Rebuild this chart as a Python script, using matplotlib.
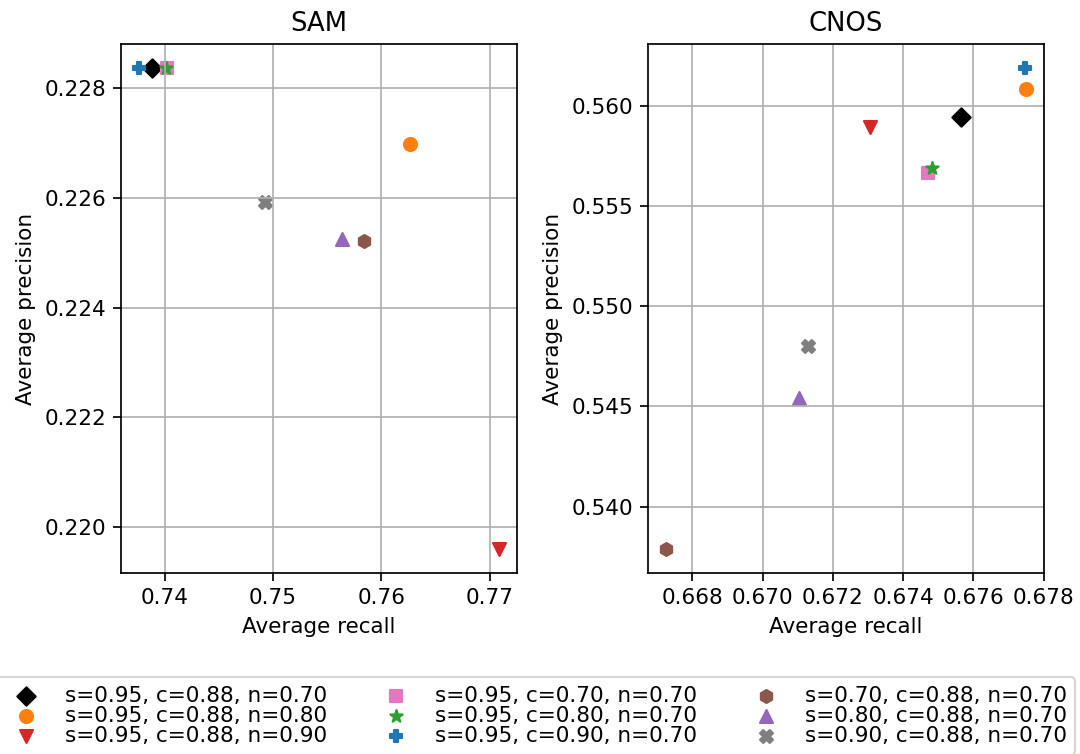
import numpy as np
import matplotlib
matplotlib.use('Agg')
import matplotlib.pyplot as plt

labels = [
    's=0.95, c=0.88, n=0.70',
    's=0.95, c=0.88, n=0.80',
    's=0.95, c=0.88, n=0.90',
    's=0.95, c=0.70, n=0.70',
    's=0.95, c=0.80, n=0.70',
    's=0.95, c=0.90, n=0.70',
    's=0.70, c=0.88, n=0.70',
    's=0.80, c=0.88, n=0.70',
    's=0.90, c=0.88, n=0.70',
]
markers = ['D', 'o', 'v', 's', '*', 'P', 'h', '^', 'X']
colors = ['black', 'C1', 'C3', 'C6', 'C2', 'C0', 'C5', 'C4', 'C7']

sam_recall = [0.73882, 0.76261, 0.77090, 0.74016, 0.74007, 0.73761, 0.75843, 0.75638, 0.74927]
sam_precision = [0.22837, 0.22699, 0.21959, 0.22837, 0.22837, 0.22837, 0.22522, 0.22525, 0.22593]

cnos_recall = [0.67564, 0.67750, 0.67306, 0.67471, 0.67481, 0.67747, 0.66725, 0.67103, 0.67130]
cnos_precision = [0.55942, 0.56084, 0.55894, 0.55665, 0.55689, 0.56187, 0.53787, 0.54540, 0.54802]

DPI = 155
fig = plt.figure(figsize=(1080 / DPI, 754 / DPI), dpi=DPI)
ax_sam = fig.add_axes([0.1120, 0.2397, 0.3670, 0.7020])
ax_cnos = fig.add_axes([0.6000, 0.2397, 0.3667, 0.7020])

panels = [
    (ax_sam, 'SAM', sam_recall, sam_precision),
    (ax_cnos, 'CNOS', cnos_recall, cnos_precision),
]
for ax, title, recall, precision in panels:
    for i in range(len(labels)):
        ax.scatter(recall[i], precision[i], marker=markers[i], color=colors[i], label=labels[i])
    ax.set_title(title)
    ax.set_xlabel('Average recall')
    ax.set_ylabel('Average precision')
    ax.grid(True)

handles, names = ax_sam.get_legend_handles_labels()
fig.legend(handles, names, loc='upper center', bbox_to_anchor=(0.496, 0.116),
           ncol=3, labelspacing=0, columnspacing=2.2)

fig.savefig('out.png', dpi=DPI)
